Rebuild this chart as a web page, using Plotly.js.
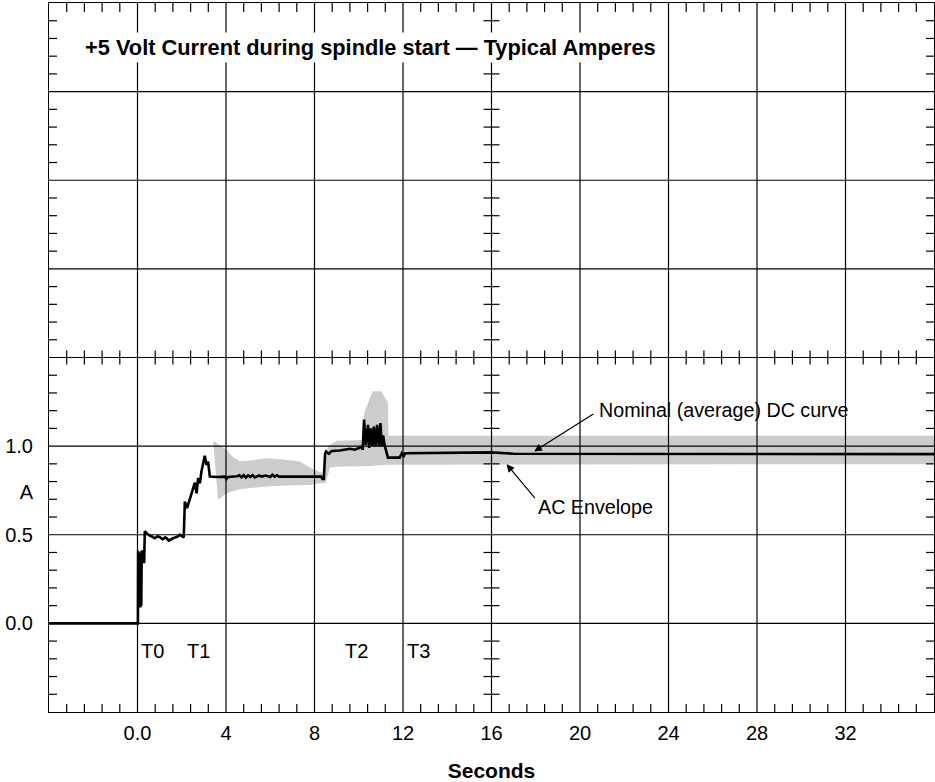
<!DOCTYPE html>
<html>
<head>
<meta charset="utf-8">
<script src="https://cdn.plot.ly/plotly-3.0.1.min.js"></script>
<style>html,body{margin:0;padding:0;background:#fff;}</style>
</head>
<body>
<div id="chart" style="width:935px;height:782px;"></div>
<script>
// ---- data ----
const timeS = [-4, 0.0, 0.02, 0.03, 0.05, 0.07, 0.09, 0.11, 0.13, 0.15, 0.17, 0.19, 0.24, 0.30, 0.33, 0.40, 0.47, 0.55, 0.65, 0.78, 0.90, 1.00, 1.08, 1.15, 1.25, 1.32, 1.41, 1.50, 1.60, 1.70, 1.82, 1.91, 2.00, 2.07, 2.09, 2.14, 2.24, 2.40, 2.51, 2.59, 2.67, 2.74, 2.82, 2.89, 3.04, 3.12, 3.19, 3.27, 3.60, 3.95, 4.02, 4.10, 4.50, 4.60, 4.70, 4.80, 4.90, 5.00, 5.10, 5.20, 5.30, 5.50, 5.60, 5.80, 6.00, 6.10, 6.20, 6.30, 6.40, 7.00, 8.30, 8.36, 8.42, 8.48, 8.52, 8.65, 8.78, 9.14, 9.60, 9.82, 10.13, 10.18, 10.24, 10.32, 10.42, 10.47, 10.54, 10.62, 10.68, 10.76, 10.83, 10.91, 10.98, 11.04, 11.10, 11.18, 11.28, 11.32, 11.85, 11.95, 12.04, 12.10, 16.0, 17.0, 36];
const currentA = [0, 0, 0, 0.41, 0.09, 0.40, 0.12, 0.38, 0.09, 0.40, 0.10, 0.41, 0.40, 0.34, 0.52, 0.51, 0.50, 0.495, 0.49, 0.48, 0.49, 0.487, 0.48, 0.475, 0.485, 0.48, 0.467, 0.475, 0.48, 0.485, 0.49, 0.50, 0.49, 0.485, 0.485, 0.687, 0.65, 0.715, 0.768, 0.794, 0.734, 0.82, 0.79, 0.857, 0.945, 0.894, 0.913, 0.828, 0.826, 0.828, 0.815, 0.826, 0.83, 0.835, 0.824, 0.836, 0.822, 0.835, 0.826, 0.836, 0.823, 0.834, 0.828, 0.834, 0.826, 0.838, 0.828, 0.836, 0.828, 0.828, 0.828, 0.815, 0.815, 0.96, 0.97, 0.957, 0.973, 0.975, 0.985, 0.98, 0.995, 0.98, 1.15, 1.007, 1.12, 0.99, 1.10, 1.0, 1.11, 1.0, 1.12, 1.0, 1.13, 1.0, 1.06, 1.0, 0.94, 0.935, 0.935, 0.96, 0.945, 0.96, 0.965, 0.957, 0.955];

// AC envelope outline (upper edge left->right, then lower edge right->left)
const envX = [3.42, 4.02, 4.30, 4.62, 5.00, 5.83, 6.60, 7.33, 7.79, 8.24, 8.42, 8.60, 9.00, 10.15, 10.20, 10.25, 10.63, 11.02, 11.32, 11.34, 36, 36, 11.30, 10.50, 9.00, 8.70, 8.50, 8.24, 7.79, 7.33, 5.83, 4.62, 4.02, 3.64];
const envY = [1.03, 0.98, 0.94, 0.915, 0.917, 0.932, 0.925, 0.913, 0.88, 0.853, 0.85, 1.0, 1.03, 1.035, 1.13, 1.19, 1.31, 1.31, 1.245, 1.058, 1.058, 0.898, 0.895, 0.888, 0.884, 0.88, 0.79, 0.79, 0.781, 0.78, 0.772, 0.757, 0.734, 0.697];

const xTickVals = [0, 4, 8, 12, 16, 20, 24, 28, 32];
const xTickText = ['0.0', '4', '8', '12', '16', '20', '24', '28', '32'];
const yGridVals = [0, 0.5, 1.0, 1.5, 2.0, 2.5, 3.0];
const yTickVals = [0, 0.5, 0.74, 1.0];
const yTickText = ['0.0', '0.5', 'A', '1.0'];
const markerLabels = ['T0', 'T1', 'T2', 'T3'];
const markerTimes = [0.06, 2.14, 9.28, 12.08];
const titleText = '+5 Volt Current during spindle start \u2014 Typical Amperes';

// ---- graticule ----
const X0 = -4, X1 = 36, Y0 = -0.5, Y1 = 3.5;
const XC = 16, YC = 1.5;
const minorX = [];
for (let i = 0; i <= 50; i++) { if (i % 5 !== 0) minorX.push(+(X0 + 0.8 * i).toFixed(4)); }
const minorY = [];
for (let j = 0; j <= 40; j++) { if (j % 5 !== 0) minorY.push(+(Y0 + 0.1 * j).toFixed(4)); }

const LC = '#000';
const shapes = [];
xTickVals.forEach(v => shapes.push({type:'line', layer:'above', xref:'x', yref:'paper', x0:v, x1:v, y0:0, y1:1, line:{color:LC, width:1.2}}));
yGridVals.forEach(v => shapes.push({type:'line', layer:'above', xref:'paper', yref:'y', x0:0, x1:1, y0:v, y1:v, line:{color:LC, width:1.2}}));
minorX.forEach(v => {
  shapes.push({type:'line', layer:'above', xref:'x', yref:'paper', ysizemode:'pixel', yanchor:0, x0:v, x1:v, y0:0, y1:8, line:{color:LC, width:1.2}});
  shapes.push({type:'line', layer:'above', xref:'x', yref:'paper', ysizemode:'pixel', yanchor:1, x0:v, x1:v, y0:-9, y1:0, line:{color:LC, width:1.2}});
  shapes.push({type:'line', layer:'above', xref:'x', yref:'y', ysizemode:'pixel', yanchor:YC, x0:v, x1:v, y0:-7, y1:7, line:{color:LC, width:1.2}});
});
minorY.forEach(v => {
  shapes.push({type:'line', layer:'above', xref:'paper', yref:'y', xsizemode:'pixel', xanchor:0, x0:0, x1:8, y0:v, y1:v, line:{color:LC, width:1.2}});
  shapes.push({type:'line', layer:'above', xref:'paper', yref:'y', xsizemode:'pixel', xanchor:1, x0:-8, x1:0, y0:v, y1:v, line:{color:LC, width:1.2}});
  shapes.push({type:'line', layer:'above', xref:'x', yref:'y', xsizemode:'pixel', xanchor:XC, x0:-8, x1:8, y0:v, y1:v, line:{color:LC, width:1.2}});
});

const FONT = 'Liberation Sans, Arial, Helvetica, sans-serif';

const traces = [
  {type:'scatter', mode:'lines', x:envX, y:envY, fill:'toself', fillcolor:'#cccccc', line:{width:0, color:'#cccccc'}, hoverinfo:'skip'},
  {type:'scatter', mode:'lines', x:timeS, y:currentA, line:{color:'#000', width:2.6}, hoverinfo:'skip'}
];

const annotations = [
  {xref:'x', yref:'y', x:-2.52, y:3.25, xanchor:'left', yanchor:'middle', text:'<b>' + titleText + '</b>', showarrow:false, font:{size:21.8, family:FONT, color:'#000'}, bgcolor:'#fff', borderpad:2},
  {xref:'x', yref:'y', x:20.76, y:1.204, xanchor:'left', yanchor:'middle', text:'Nominal (average) DC curve', showarrow:false, font:{size:19.7, family:FONT, color:'#000'}},
  {xref:'x', yref:'y', x:18.02, y:0.659, xanchor:'left', yanchor:'middle', text:'AC Envelope', showarrow:false, font:{size:19.7, family:FONT, color:'#000'}},
  {xref:'x', yref:'y', x:17.93, y:0.97, axref:'x', ayref:'y', ax:20.67, ay:1.186, text:' ', font:{size:1}, showarrow:true, arrowhead:2, arrowsize:1.3, arrowwidth:1.2, arrowcolor:'#000', standoff:0, startstandoff:0},
  {xref:'x', yref:'y', x:16.68, y:0.898, axref:'x', ayref:'y', ax:18.03, ay:0.697, text:' ', font:{size:1}, showarrow:true, arrowhead:2, arrowsize:1.3, arrowwidth:1.2, arrowcolor:'#000', standoff:0, startstandoff:0}
];
markerLabels.forEach((t, i) => annotations.push({xref:'x', yref:'y', x:markerTimes[i], y:-0.156, xanchor:'left', yanchor:'middle', text:t, showarrow:false, font:{size:20, family:FONT, color:'#000'}}));

const layout = {
  width:935, height:782,
  margin:{l:49, r:1, t:3, b:70, pad:0},
  paper_bgcolor:'#fff', plot_bgcolor:'#fff',
  showlegend:false,
  font:{family:FONT, size:20, color:'#000'},
  xaxis:{range:[X0, X1], tickmode:'array', tickvals:xTickVals, ticktext:xTickText, showgrid:false, zeroline:false,
         showline:true, mirror:true, linecolor:'#000', linewidth:1, ticks:'', ticklabelstandoff:3,
         tickfont:{size:20, family:FONT}, fixedrange:true,
         title:{text:'<b>Seconds</b>', font:{size:21, family:FONT}, standoff:25}},
  yaxis:{range:[Y0, Y1], tickmode:'array', tickvals:yTickVals, ticktext:yTickText, showgrid:false, zeroline:false,
         showline:true, mirror:true, linecolor:'#000', linewidth:1, ticks:'', ticklabelstandoff:11,
         tickfont:{size:20, family:FONT}, fixedrange:true},
  shapes:shapes,
  annotations:annotations
};

Plotly.newPlot('chart', traces, layout, {displayModeBar:false, staticPlot:true});
</script>
</body>
</html>
